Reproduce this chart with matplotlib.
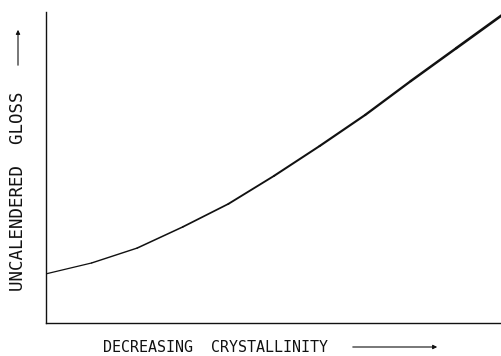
import matplotlib.pyplot as plt
import numpy as np
from matplotlib.collections import LineCollection
from matplotlib.patches import FancyArrowPatch

# relative units, no scale printed on the axes
crystallinity = [0, 1, 2, 3, 4, 5, 6, 7, 8, 9, 10]
gloss = [1.58, 1.93, 2.41, 3.09, 3.83, 4.73, 5.69, 6.69, 7.78, 8.84, 9.90]

x_label = "DECREASING  CRYSTALLINITY"
y_label = "UNCALENDERED  GLOSS"

ink = "#111111"

fig = plt.figure(figsize=(5.02, 3.56), dpi=100)
ax = fig.add_axes([46 / 502, 1 - 323 / 356, 1 - 46 / 502, (323 - 12) / 356])

# pen gets heavier towards the upper end of the curve
pts = np.column_stack([crystallinity, gloss])
segs = np.stack([pts[:-1], pts[1:]], axis=1)
widths = np.linspace(0.9, 1.9, len(segs))
ax.add_collection(LineCollection(segs, colors=ink, linewidths=widths,
                                 capstyle="round", joinstyle="round"))

ax.set_xlim(0, 10)
ax.set_ylim(0, 10)
ax.set_xticks([])
ax.set_yticks([])
for side in ("top", "right"):
    ax.spines[side].set_visible(False)
for side in ("left", "bottom"):
    ax.spines[side].set_color(ink)
    ax.spines[side].set_linewidth(1.0)

# stencil-like lettering, evenly pitched
fig.text(103 / 502, 1 - 347 / 356, x_label, ha="left", va="center",
         family="DejaVu Sans Mono", fontsize=10.8, color=ink)
fig.text(18 / 502, 1 - 291 / 356, y_label, ha="center", va="bottom",
         rotation=90, family="DejaVu Sans Mono", fontsize=12.6, color=ink)

arrow = dict(arrowstyle="-|>", color=ink, lw=0.8, mutation_scale=6,
             transform=fig.transFigure)
fig.add_artist(FancyArrowPatch((350 / 502, 1 - 347 / 356),
                               (440 / 502, 1 - 347 / 356), **arrow))
fig.add_artist(FancyArrowPatch((18 / 502, 1 - 68 / 356),
                               (18 / 502, 1 - 27 / 356), **arrow))

fig.savefig("out.png", dpi=100)
